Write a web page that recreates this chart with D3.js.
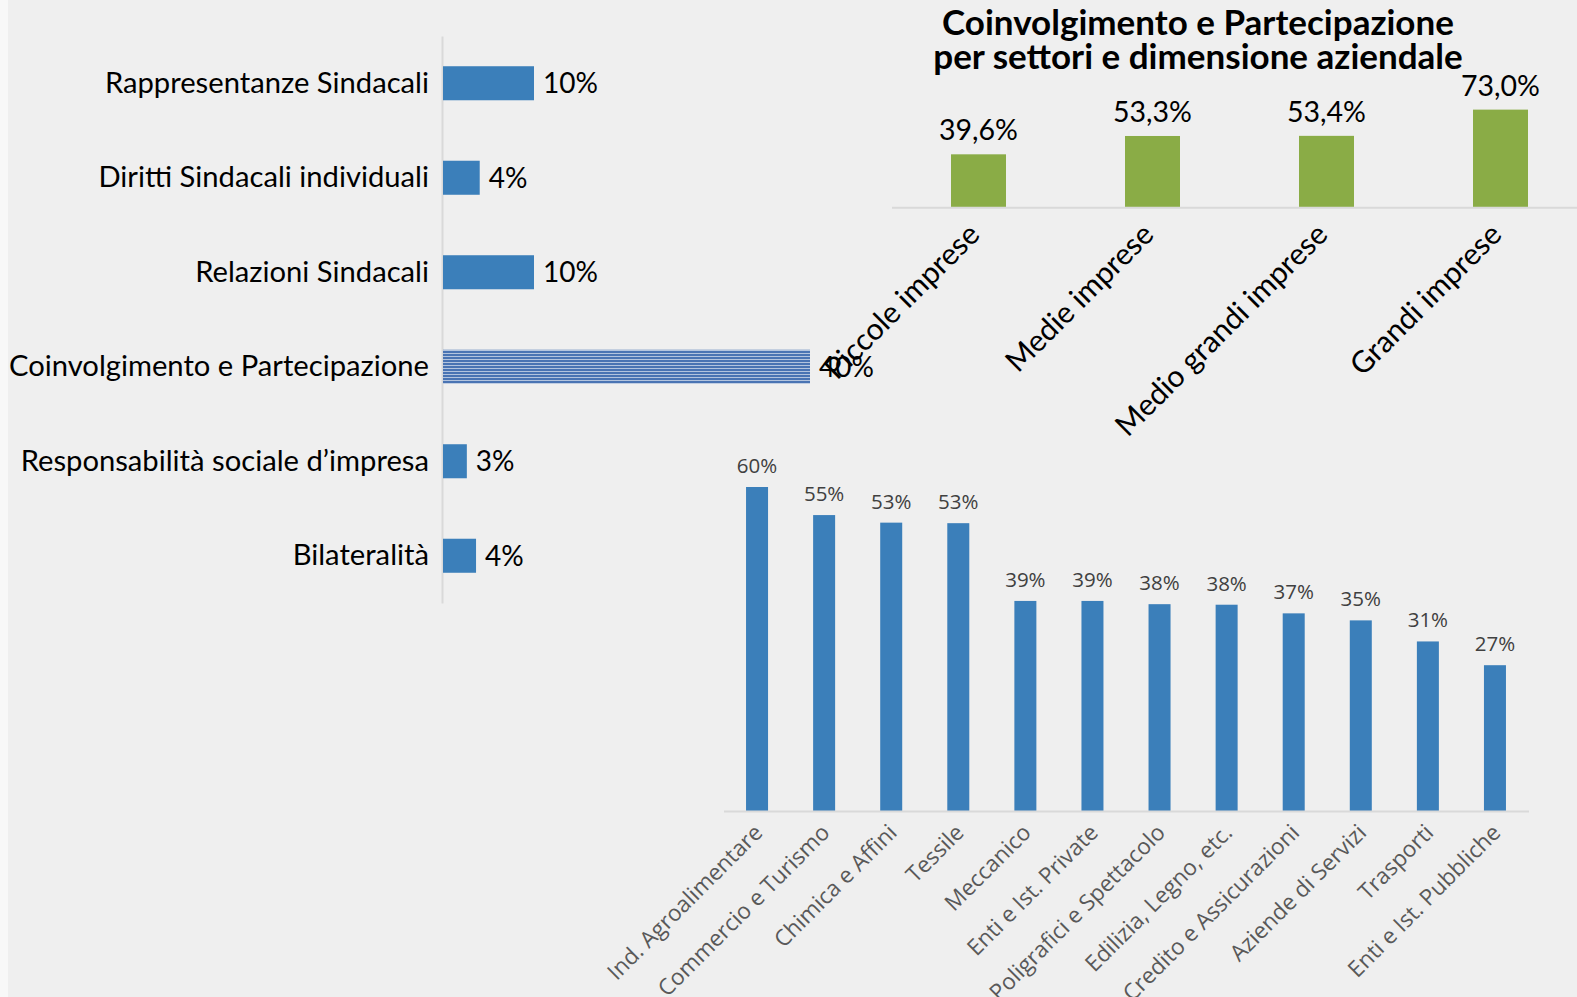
<!DOCTYPE html>
<html>
<head>
<meta charset="utf-8">
<script src="https://cdn.jsdelivr.net/npm/d3@7"></script>
<style>
  html, body { margin: 0; padding: 0; background: #f8f8f8; }
  svg { display: block; }
</style>
</head>
<body>
<svg id="chart" width="1577" height="997"></svg>
<script>
// Temi trattati negli accordi (quota sul totale, %)
const themes = [
  "Rappresentanze Sindacali",
  "Diritti Sindacali individuali",
  "Relazioni Sindacali",
  "Coinvolgimento e Partecipazione",
  "Responsabilità sociale d’impresa",
  "Bilateralità"
];
const themeValues = [10.0, 4.1, 10.0, 40.0, 2.7, 3.7];

// Coinvolgimento e Partecipazione per dimensione aziendale (%)
const sizes = ["Piccole imprese", "Medie imprese", "Medio grandi imprese", "Grandi imprese"];
const sizeValues = [39.6, 53.3, 53.4, 73.0];

// Coinvolgimento e Partecipazione per settore (%)
const sectors = [
  "Ind. Agroalimentare", "Commercio e Turismo", "Chimica e Affini", "Tessile",
  "Meccanico", "Enti e Ist. Private", "Poligrafici e Spettacolo", "Edilizia, Legno, etc.",
  "Credito e Assicurazioni", "Aziende di Servizi", "Trasporti", "Enti e Ist. Pubbliche"
];
const sectorValues = [60.0, 54.8, 53.4, 53.3, 38.9, 38.9, 38.3, 38.2, 36.6, 35.3, 31.4, 27.0];

const titleLines = ["Coinvolgimento e Partecipazione", "per settori e dimensione aziendale"];

const BLUE = "#3b7fba", GREEN = "#8aac46", AXIS = "#d9d9d9";
const SANS = "Lato, 'Open Sans', sans-serif";
const SANS2 = "'Open Sans', 'Noto Sans', sans-serif";

const svg = d3.select("#chart");
svg.append("rect").attr("x", 8).attr("y", 0).attr("width", 1569).attr("height", 997).attr("fill", "#efefef");

const defs = svg.append("defs");
const pat = defs.append("pattern").attr("id", "hstripes")
  .attr("patternUnits", "userSpaceOnUse").attr("width", 6).attr("height", 3);
pat.append("rect").attr("width", 6).attr("height", 3).attr("fill", "#b3c4de");
pat.append("rect").attr("width", 6).attr("height", 2).attr("fill", "#4a74b3");

// ---------- Barre orizzontali: temi ----------
const highlighted = "Coinvolgimento e Partecipazione";
const xT = d3.scaleLinear().domain([0, 40]).range([442, 810]);
const yT = d3.scaleBand().domain(themes).range([36, 603]).paddingInner(0.64).paddingOuter(0.32);

const gT = svg.append("g");
const axT = gT.append("g").attr("transform", `translate(${xT(0)},0)`)
  .call(d3.axisLeft(yT).tickSizeInner(0).tickSizeOuter(0).tickPadding(13));
axT.select(".domain").attr("stroke", AXIS).attr("stroke-width", 2);
axT.selectAll("text").attr("font-family", SANS).attr("font-size", 29.2).attr("fill", "#000");

const themeData = themes.map((t, i) => ({ t, v: themeValues[i] }));
gT.selectAll("rect.bar").data(themeData).join("rect").attr("class", "bar")
  .attr("x", xT(0) + 1)
  .attr("y", d => yT(d.t))
  .attr("width", d => xT(d.v) - xT(0) - 1)
  .attr("height", yT.bandwidth())
  .attr("fill", d => d.t === highlighted ? "url(#hstripes)" : BLUE);
gT.selectAll("text.val").data(themeData).join("text").attr("class", "val")
  .attr("x", d => xT(d.v) + 9)
  .attr("y", d => yT(d.t) + yT.bandwidth() / 2)
  .attr("dy", "0.36em")
  .attr("font-family", SANS).attr("font-size", 28).attr("fill", "#000")
  .text(d => Math.round(d.v) + "%");

// ---------- Barre verticali: dimensione aziendale ----------
const xS = d3.scaleBand().domain(sizes).range([891.5, 1587.5]).paddingInner(0.684).paddingOuter(0.342);
const yS = d3.scaleLinear().domain([0, 80]).range([207.3, 207.3 - 80 * 1.338]);
const gS = svg.append("g");

titleLines.forEach((l, i) =>
  gS.append("text").attr("x", 1198).attr("y", 35 + i * 34)
    .attr("text-anchor", "middle").attr("font-family", SANS).attr("font-weight", 700)
    .attr("font-size", 35).attr("fill", "#000").text(l));

const sizeData = sizes.map((s, i) => ({ s, v: sizeValues[i] }));
gS.selectAll("rect").data(sizeData).join("rect")
  .attr("x", d => xS(d.s)).attr("y", d => yS(d.v))
  .attr("width", xS.bandwidth()).attr("height", d => yS(0) - yS(d.v))
  .attr("fill", GREEN);
gS.selectAll("text.val").data(sizeData).join("text").attr("class", "val")
  .attr("x", d => xS(d.s) + xS.bandwidth() / 2).attr("y", d => yS(d.v) - 14)
  .attr("text-anchor", "middle").attr("font-family", SANS).attr("font-size", 28.5).attr("fill", "#000")
  .text(d => d3.format(".1f")(d.v).replace(".", ",") + "%");

const axS = gS.append("g").attr("transform", `translate(0,${yS(0)})`)
  .call(d3.axisBottom(xS).tickSizeInner(0).tickSizeOuter(0));
axS.select(".domain").attr("stroke", AXIS).attr("stroke-width", 2);
axS.selectAll("text").attr("x", 0).attr("y", 0).attr("dy", null)
  .attr("text-anchor", "end").attr("transform", "translate(3,29) rotate(-45)")
  .attr("font-family", SANS).attr("font-size", 30).attr("fill", "#000");

// ---------- Barre verticali: settori ----------
const xB = d3.scaleBand().domain(sectors).range([723.5, 1528.5]).paddingInner(0.672).paddingOuter(0.336);
const yB = d3.scaleLinear().domain([0, 70]).range([811, 811 - 70 * 5.4]);
const gB = svg.append("g");
const sectorData = sectors.map((s, i) => ({ s, v: sectorValues[i] }));
gB.selectAll("rect").data(sectorData).join("rect")
  .attr("x", d => xB(d.s)).attr("y", d => yB(d.v))
  .attr("width", xB.bandwidth()).attr("height", d => yB(0) - yB(d.v))
  .attr("fill", BLUE);
gB.selectAll("text.val").data(sectorData).join("text").attr("class", "val")
  .attr("x", d => xB(d.s) + xB.bandwidth() / 2).attr("y", d => yB(d.v) - 14)
  .attr("text-anchor", "middle").attr("font-family", SANS2).attr("font-size", 20.5).attr("fill", "#404040")
  .text(d => Math.round(d.v) + "%");

const axB = gB.append("g").attr("transform", `translate(0,${yB(0)})`)
  .call(d3.axisBottom(xB).tickSizeInner(0).tickSizeOuter(0));
axB.select(".domain").attr("stroke", AXIS).attr("stroke-width", 2);
axB.selectAll("text").attr("x", 0).attr("y", 0).attr("dy", null)
  .attr("text-anchor", "end").attr("transform", "translate(7,23) rotate(-45)")
  .attr("font-family", SANS2).attr("font-size", 22.5).attr("fill", "#595959");
</script>
</body>
</html>
